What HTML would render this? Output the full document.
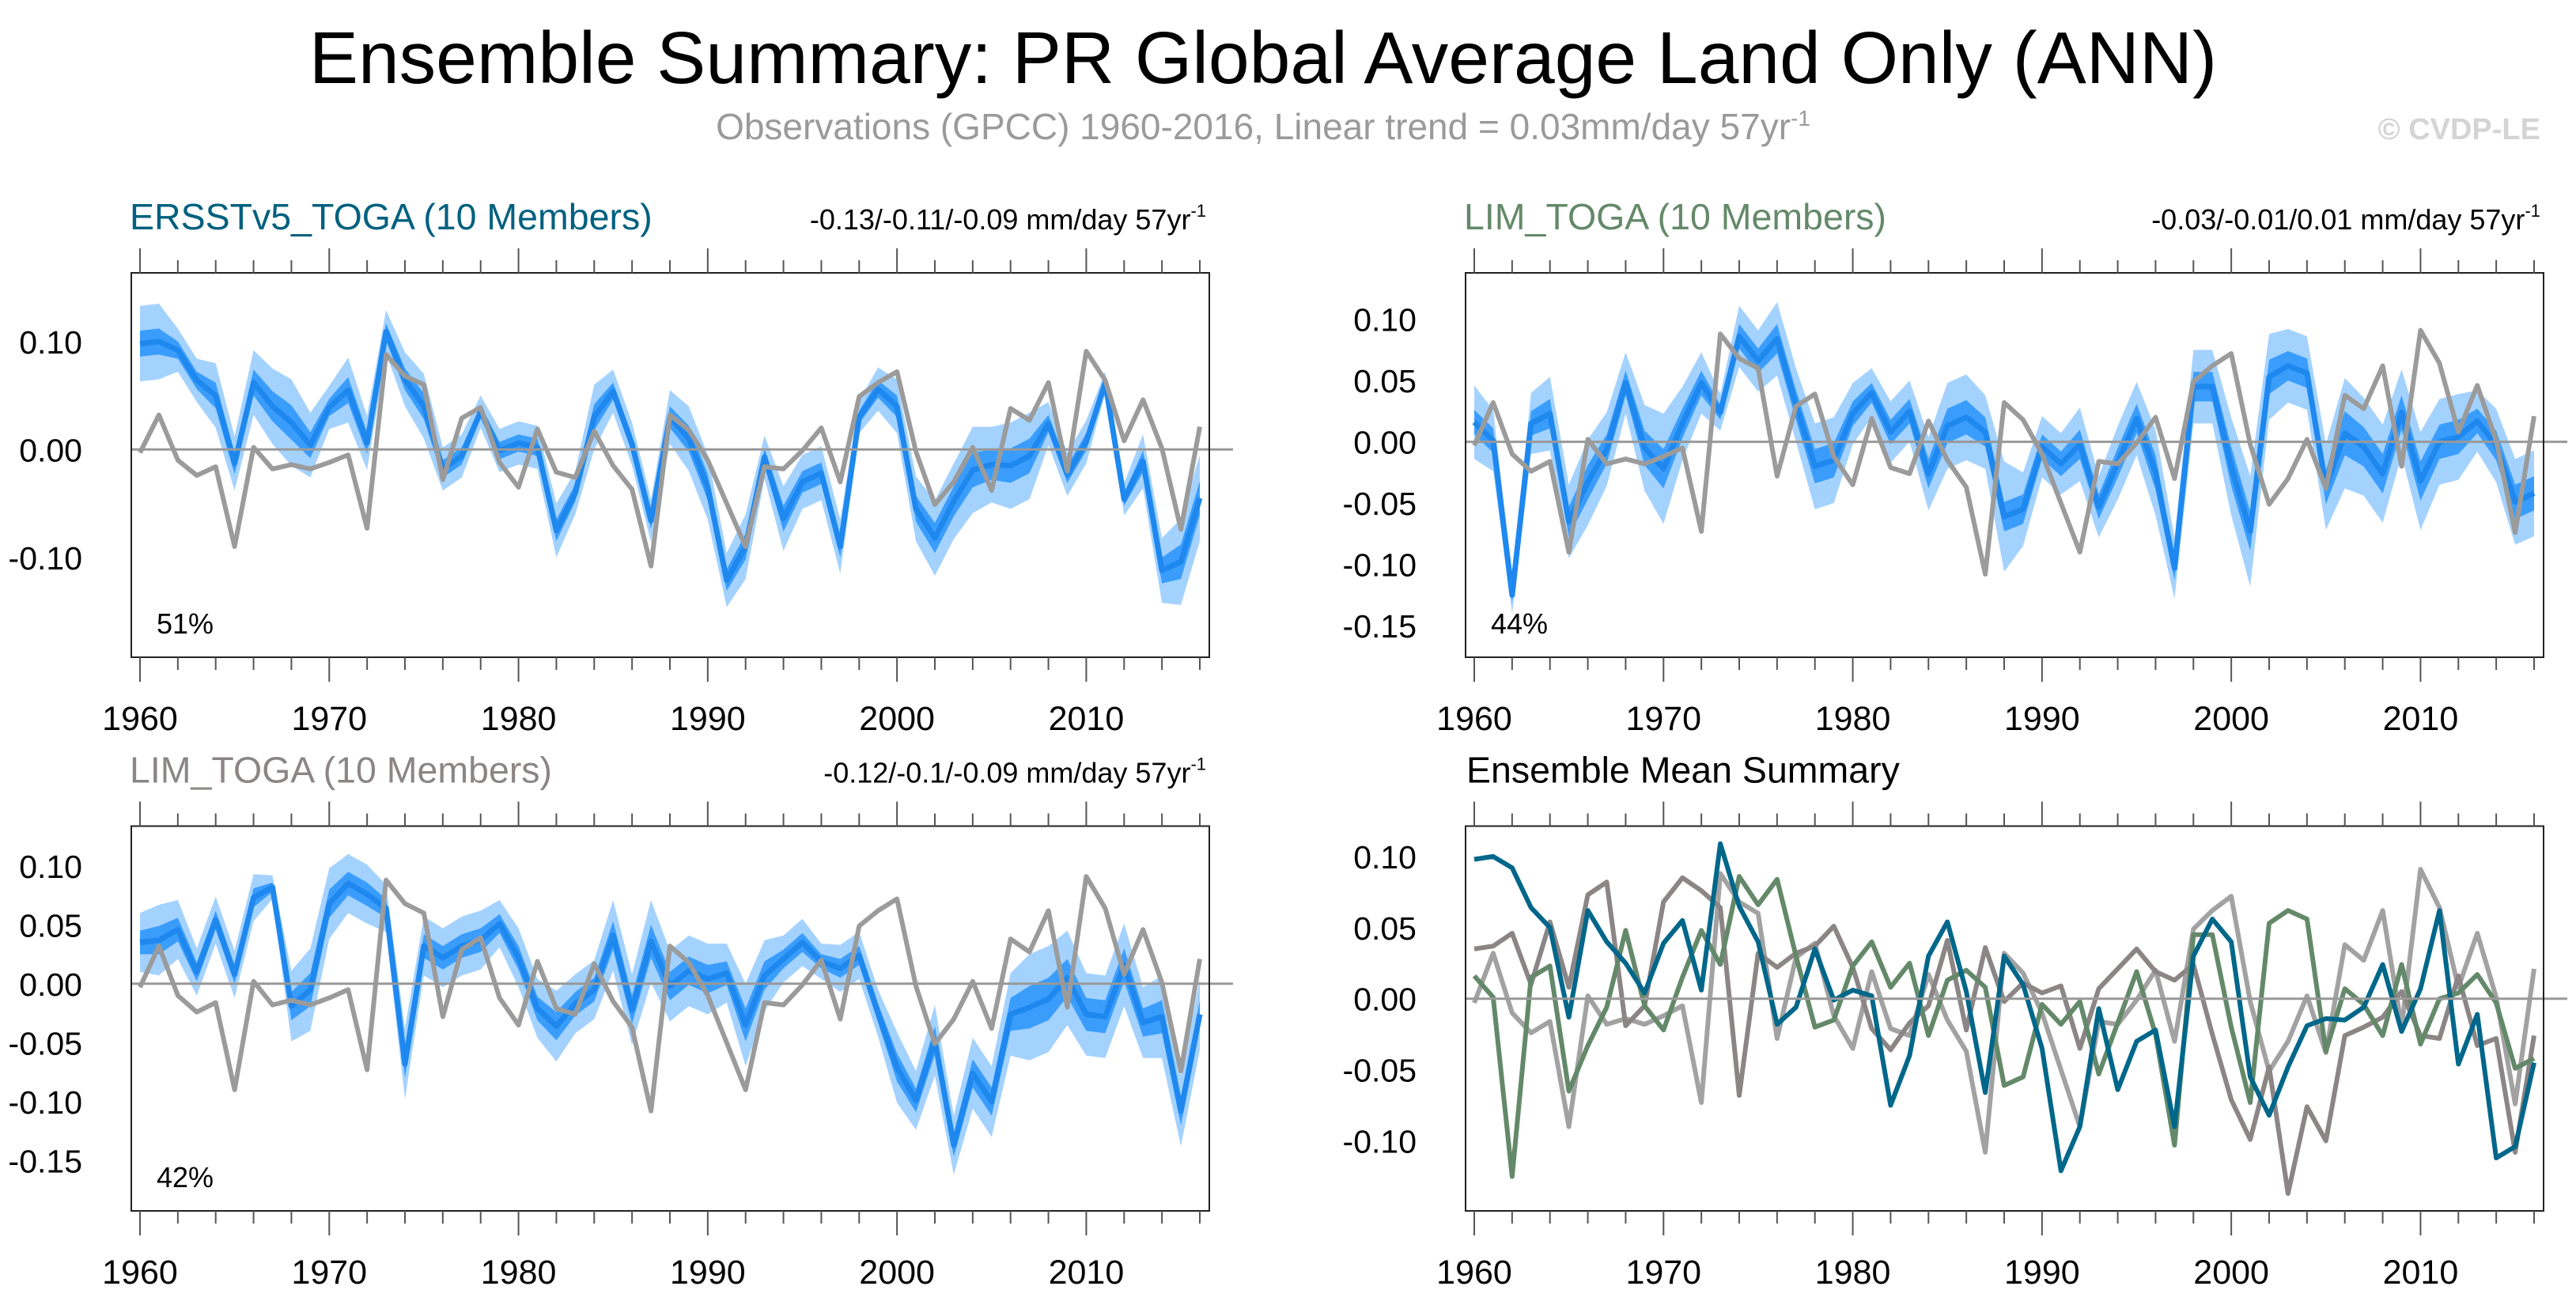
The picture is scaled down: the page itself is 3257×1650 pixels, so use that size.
<!DOCTYPE html>
<html><head><meta charset="utf-8"><style>
html,body{margin:0;padding:0;background:#fff;}
svg{display:block;font-family:"Liberation Sans",sans-serif;}
</style></head><body>
<svg id="chart" width="3257" height="1650" viewBox="0 0 3257 1650" xmlns="http://www.w3.org/2000/svg">
<text x="1597" y="105" font-size="93" text-anchor="middle" fill="#000">Ensemble Summary: PR Global Average Land Only (ANN)</text>
<text x="1597" y="176" font-size="46" text-anchor="middle" fill="#9a9a9a">Observations (GPCC) 1960-2016, Linear trend = 0.03mm/day 57yr<tspan font-size="28" dy="-17">-1</tspan></text>
<text x="3212" y="176" font-size="38" font-weight="bold" text-anchor="end" fill="#d4d4d4">© CVDP-LE</text>
<g id="panels"></g>
</svg>
<script>
const years = [];
for (let y = 1960; y <= 2016; y++) years.push(y);
const obs = [-0.003,0.032,-0.010,-0.024,-0.016,-0.090,0.002,-0.018,-0.014,-0.018,-0.012,-0.005,-0.073,0.088,0.068,0.060,-0.028,0.029,0.039,-0.012,-0.035,0.019,-0.021,-0.026,0.017,-0.015,-0.037,-0.108,0.032,0.018,-0.010,-0.050,-0.090,-0.016,-0.018,-0.001,0.020,-0.030,0.049,0.062,0.072,-0.002,-0.051,-0.030,0.002,-0.038,0.038,0.027,0.062,-0.020,0.091,0.064,0.008,0.046,0.001,-0.074,0.021];
const meanErsst = [0.098,0.100,0.092,0.064,0.050,-0.013,0.062,0.040,0.025,0.004,0.039,0.055,0.006,0.109,0.065,0.040,-0.018,-0.006,0.035,-0.001,0.006,0.002,-0.075,-0.040,0.030,0.054,0.005,-0.066,0.030,0.010,-0.035,-0.121,-0.090,-0.007,-0.064,-0.030,-0.022,-0.090,0.030,0.056,0.040,-0.055,-0.082,-0.048,-0.019,-0.014,-0.015,-0.006,0.024,-0.023,0.007,0.062,-0.046,-0.011,-0.112,-0.104,-0.045];
const meanLim = [0.016,0.001,-0.125,0.015,0.023,-0.065,-0.033,-0.006,0.048,-0.005,-0.022,0.015,0.048,0.024,0.086,0.066,0.084,0.030,-0.020,-0.015,0.023,0.040,0.008,0.025,-0.026,0.013,0.020,0.008,-0.061,-0.055,-0.004,-0.018,-0.002,-0.053,-0.017,0.019,-0.025,-0.103,0.045,0.045,-0.020,-0.073,0.053,0.062,0.056,-0.037,0.007,-0.004,-0.026,0.024,-0.032,0.000,0.004,0.017,-0.003,-0.049,-0.042];
const meanLim2 = [0.035,0.037,0.046,0.010,0.054,0.008,0.073,0.082,-0.019,-0.005,0.068,0.085,0.076,0.064,-0.068,0.032,0.022,0.032,0.037,0.051,0.022,-0.021,-0.036,-0.017,-0.005,0.041,-0.022,0.036,-0.002,0.011,0.004,0.009,-0.035,0.007,0.021,0.035,0.019,0.013,0.024,-0.025,-0.071,-0.099,-0.048,-0.137,-0.076,-0.100,-0.026,-0.020,-0.013,0.005,-0.026,-0.028,0.016,-0.033,-0.028,-0.108,-0.026];
const lightErsst = [.035,.035,.02,.02,.03,.025,.03,.035,.04,.03,.02,.03,.025,.02,.025,.03,.02,.02,.015,.02,.02,.02,.025,.02,.03,.02,.02,.02,.025,.03,.03,.025,.03,.02,.03,.025,.025,.025,.015,.02,.025,.03,.035,.035,.04,.035,.04,.04,.02,.02,.02,.01,.015,.025,.03,.04,.04];
const darkErsst = [.012,.012,.008,.008,.012,.01,.012,.014,.016,.012,.008,.012,.01,.008,.01,.012,.008,.008,.006,.008,.008,.008,.01,.008,.012,.008,.008,.008,.01,.012,.012,.01,.012,.008,.012,.01,.01,.01,.006,.008,.01,.012,.014,.014,.016,.014,.016,.016,.008,.008,.008,.004,.006,.01,.012,.016,.016];
const lightLim = [.03,.025,.015,.025,.03,.03,.035,.03,.025,.035,.045,.03,.025,.015,.025,.025,.03,.03,.035,.035,.025,.02,.025,.025,.03,.035,.035,.03,.045,.03,.025,.025,.03,.025,.03,.03,.035,.025,.03,.03,.04,.045,.035,.03,.03,.035,.045,.04,.04,.035,.04,.035,.035,.025,.03,.035,.035];
const darkLim = [.01,.01,.006,.01,.012,.012,.014,.012,.01,.014,.016,.012,.01,.006,.01,.01,.012,.012,.014,.014,.01,.008,.01,.01,.012,.014,.014,.012,.012,.012,.01,.01,.012,.01,.012,.012,.014,.01,.012,.012,.016,.016,.014,.012,.012,.014,.018,.016,.016,.014,.016,.014,.014,.01,.012,.014,.014];
const lightLim2 = [.025,.03,.025,.02,.02,.02,.02,.01,.03,.035,.03,.025,.025,.02,.03,.025,.025,.025,.025,.02,.025,.025,.03,.025,.025,.03,.03,.035,.03,.03,.03,.025,.035,.03,.02,.02,.015,.02,.02,.02,.03,.025,.03,.025,.03,.03,.035,.045,.045,.04,.035,.035,.035,.03,.035,.03,.03];
const darkLim2 = [.01,.012,.01,.008,.008,.008,.008,.004,.012,.014,.012,.01,.01,.008,.012,.01,.01,.01,.01,.008,.01,.01,.012,.01,.01,.012,.012,.014,.012,.012,.012,.01,.014,.012,.008,.008,.006,.008,.008,.008,.012,.01,.012,.01,.012,.012,.014,.018,.018,.016,.014,.014,.014,.012,.014,.012,.012];
const xTickLabels = ["1960","1970","1980","1990","2000","2010"];
</script>
<script>
const NS = "http://www.w3.org/2000/svg";
const root = document.getElementById("panels");
function mk(tag, attrs, parent) {
  const e = document.createElementNS(NS, tag);
  for (const k in attrs) e.setAttribute(k, attrs[k]);
  (parent || root).appendChild(e);
  return e;
}
const panels = [
  {key:"ersst", fx0:166, fx1:1529, fy0:345, fy1:831, zy:568.3, ppu:1365, major:[0.1,0,-0.1], minorStep:0.02,
   title:"ERSSTv5_TOGA (10 Members)", tcol:"#00607f", right:"-0.13/-0.11/-0.09 mm/day 57yr", pct:"51%",
   mean:meanErsst, light:lightErsst, dark:darkErsst},
  {key:"lim", fx0:1853, fx1:3216, fy0:345, fy1:831, zy:558.6, ppu:1550, major:[0.1,0.05,0,-0.05,-0.1,-0.15], minorStep:0.01,
   title:"LIM_TOGA (10 Members)", tcol:"#64896a", right:"-0.03/-0.01/0.01 mm/day 57yr", pct:"44%",
   mean:meanLim, light:lightLim, dark:darkLim},
  {key:"lim2", fx0:166, fx1:1529, fy0:1044.5, fy1:1531, zy:1243.8, ppu:1490, major:[0.1,0.05,0,-0.05,-0.1,-0.15], minorStep:0.01,
   title:"LIM_TOGA (10 Members)", tcol:"#8c8585", right:"-0.12/-0.1/-0.09 mm/day 57yr", pct:"42%",
   mean:meanLim2, light:lightLim2, dark:darkLim2},
  {key:"summary", fx0:1853, fx1:3216, fy0:1044.5, fy1:1531, zy:1262.7, ppu:1798, major:[0.1,0.05,0,-0.05,-0.1], minorStep:0.01,
   title:"Ensemble Mean Summary", tcol:"#000", right:null, pct:null}
];
panels.forEach(p => {
  const yr0 = p.fx0 + 11, yr1 = p.fx1 - 12;
  const xs = y => yr0 + (y - 1960) * (yr1 - yr0) / 56;
  const ys = v => p.zy - v * p.ppu;
  const g = mk("g", {});
  
  
  const cp = mk("clipPath", {id:"clip-" + p.key}, g);
  mk("rect", {x:p.fx0, y:p.fy0, width:p.fx1-p.fx0, height:p.fy1-p.fy0}, cp);
  const plot = mk("g", {"clip-path":"url(#clip-" + p.key + ")"}, g);
  const zl = mk("line", {x1:p.fx0, x2:p.fx1+30, y1:ys(0), y2:ys(0), stroke:"#999", "stroke-width":3}, g);
  
  
  function band(mean, sp, fill, name) {
    let d = "";
    mean.forEach((v,i) => { d += (i ? "L" : "M") + xs(years[i]).toFixed(1) + "," + ys(v + sp[i]).toFixed(1); });
    for (let i = mean.length - 1; i >= 0; i--) d += "L" + xs(years[i]).toFixed(1) + "," + ys(mean[i] - sp[i]).toFixed(1);
    const e = mk("path", {d:d + "Z", fill:fill}, plot);
    
    
  }
  function line(vals, col, w, name) {
    const pts = vals.map((v,i) => xs(years[i]).toFixed(1) + "," + ys(v).toFixed(1)).join(" ");
    const e = mk("polyline", {points:pts, fill:"none", stroke:col, "stroke-width":w, "stroke-linejoin":"round"}, plot);
    
    
  }
  if (p.mean) {
    band(p.mean, p.light, "#a4d2ff", "ensemble-range-band");
    band(p.mean, p.dark, "#3a9dfc", "ensemble-interquartile-band");
    line(p.mean, "#1e88ee", 7, "ensemble-mean-line");
    line(obs, "#9b9b9b", 6, "observations-line");
  } else {
    line(obs, "#a2a2a2", 6, "observations-line");
    line(meanLim2, "#8c8585", 6, "lim-toga-2-mean-line");
    line(meanLim, "#64896a", 6, "lim-toga-mean-line");
    line(meanErsst, "#00678a", 6, "ersst-toga-mean-line");
  }
  const fr = mk("rect", {x:p.fx0, y:p.fy0, width:p.fx1-p.fx0, height:p.fy1-p.fy0, fill:"none", stroke:"#222", "stroke-width":2}, g);
  
  
  for (let y = 1960; y <= 2016; y += 2) {
    const maj = (y % 10 === 0);
    const L = maj ? 31 : 16;
    const x = xs(y);
    mk("line", {x1:x, x2:x, y1:p.fy0, y2:p.fy0-L, stroke:"#555", "stroke-width":2}, g);
    mk("line", {x1:x, x2:x, y1:p.fy1, y2:p.fy1+L, stroke:"#555", "stroke-width":2}, g);
  }
  xTickLabels.forEach(t => {
    const e = mk("text", {x:xs(+t), y:p.fy1+92, "font-size":43, "text-anchor":"middle"}, g);
    e.textContent = t;
    
    
  });
  const lo = (p.zy - p.fy1) / p.ppu * -1, hi = (p.zy - p.fy0) / p.ppu;
  for (let k = Math.ceil(lo / p.minorStep - 1e-6); k * p.minorStep <= hi + 1e-9; k++) {
    const v = k * p.minorStep;
    const maj = p.major.some(m => Math.abs(m - v) < 1e-6);
    const L = maj ? 31 : 16;
    mk("line", {x1:p.fx0, x2:p.fx0-L, y1:ys(v), y2:ys(v), stroke:"#666", "stroke-width":2}, g);
    mk("line", {x1:p.fx1, x2:p.fx1+L, y1:ys(v), y2:ys(v), stroke:"#666", "stroke-width":2}, g);
  }
  p.major.forEach(v => {
    const e = mk("text", {x:p.fx0-62, y:ys(v)+15, "font-size":41, "text-anchor":"end"}, g);
    e.textContent = v.toFixed(2);
    
    
  });
  const t = mk("text", {x:p.fx0 - (p.key==="summary" ? -1 : 2), y:p.fy0-55, "font-size":46.5, fill:p.tcol}, g);
  t.textContent = p.title;
  
  
  if (p.right) {
    const r = mk("text", {x:p.fx1-4, y:p.fy0-55, "font-size":36, "text-anchor":"end"}, g);
    r.textContent = p.right;
    const sup = mk("tspan", {"font-size":22, dy:-16}, r);
    sup.textContent = "-1";
    
    
  }
  if (p.pct) {
    const c = mk("text", {x:p.fx0+32, y:p.fy1-30, "font-size":36}, g);
    c.textContent = p.pct;
    
    
  }
});
</script>
</body></html>
